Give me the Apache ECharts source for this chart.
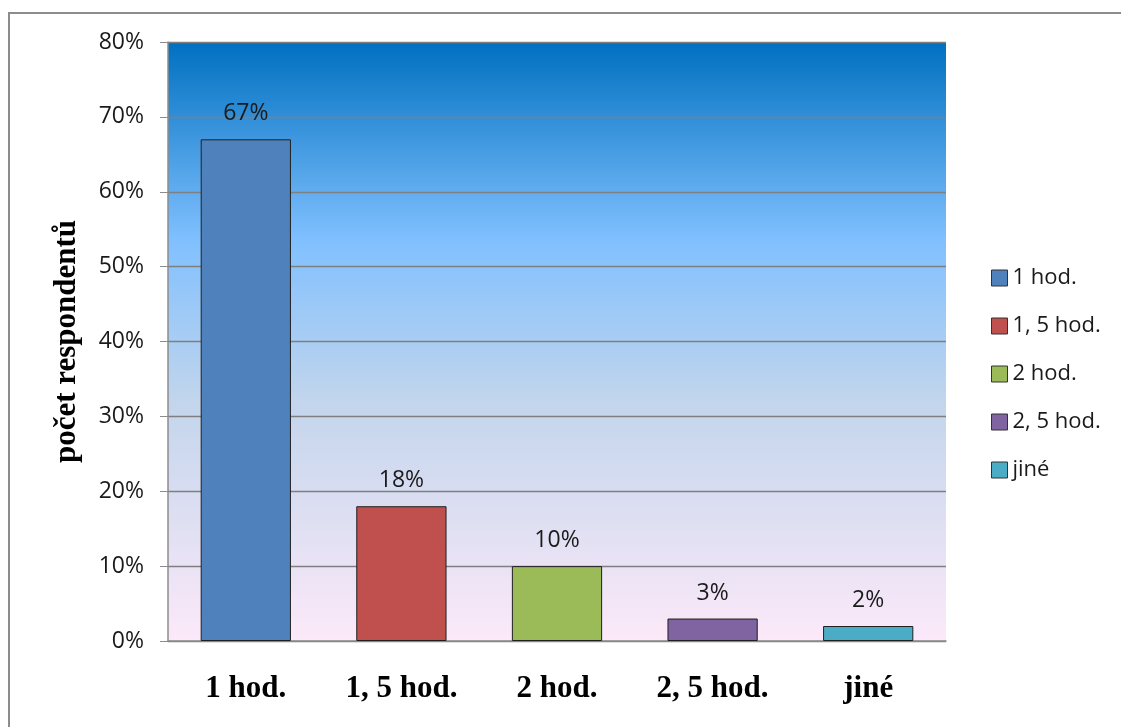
<!DOCTYPE html>
<html>
<head>
<meta charset="utf-8">
<script src="https://cdn.jsdelivr.net/npm/echarts@6/dist/echarts.min.js"></script>
<style>
  html, body { margin: 0; padding: 0; background: #fff; }
  #frame { position: absolute; left: 8px; top: 12px; width: 1130px; height: 730px;
           border: 2px solid #8c8c8c; box-sizing: border-box; }
  #chart { position: absolute; left: 0; top: 0; width: 1121px; height: 727px; }
</style>
</head>
<body>
<div id="frame"></div>
<div id="chart"></div>
<script>
// Doba (hodiny) a podíl respondentů v procentech
const categories = ['1 hod.', '1, 5 hod.', '2 hod.', '2, 5 hod.', 'jiné'];
const values = [67, 18, 10, 3, 2];
const colors = ['#4F81BD', '#C0504D', '#9BBB59', '#8064A2', '#4BACC6'];
const yTicks = [0, 10, 20, 30, 40, 50, 60, 70, 80];

const chart = echarts.init(document.getElementById('chart'), null, { renderer: 'canvas' });

// One series per category so that each appears in the legend; bars overlap in place.
const series = categories.map((name, i) => ({
  name: name,
  type: 'bar',
  barWidth: '58%',
  barGap: '-100%',
  data: categories.map((c, j) => (j === i ? values[i] : null)),
  itemStyle: { color: colors[i], borderColor: '#1f1f1f', borderWidth: 1 },
  label: {
    show: true,
    position: 'top',
    distance: 14,
    formatter: p => p.value + '%',
    fontFamily: 'Open Sans',
    fontSize: 23,
    color: '#1a1a1a'
  }
}));

chart.setOption({
  animation: false,
  grid: {
    left: 168, right: 175, top: 42, bottom: 86,
    show: true,
    borderWidth: 0,
    backgroundColor: {
      type: 'linear', x: 0, y: 0, x2: 0, y2: 1,
      colorStops: [
        { offset: 0, color: '#0070C0' },
        { offset: 0.33, color: '#80C0FF' },
        { offset: 0.6, color: '#C2D5EC' },
        { offset: 1, color: '#FCE9F9' }
      ]
    }
  },
  legend: {
    orient: 'vertical',
    left: 986,
    top: 262,
    itemGap: 26,
    itemWidth: 16,
    itemHeight: 16,
    icon: 'rect',
    data: categories.map((c, i) => ({
      name: c,
      itemStyle: { color: colors[i], borderColor: '#333', borderWidth: 1 }
    })),
    textStyle: { fontFamily: 'Open Sans', fontSize: 22, color: '#1a1a1a', padding: [0, 0, 0, 0] }
  },
  xAxis: {
    type: 'category',
    data: categories,
    axisLine: { show: true, lineStyle: { color: '#8c8c8c', width: 1.5 } },
    axisTick: { show: false },
    axisLabel: {
      margin: 32,
      fontFamily: 'Liberation Serif',
      fontWeight: 'bold',
      fontSize: 31,
      color: '#000'
    }
  },
  yAxis: {
    type: 'value',
    min: 0,
    max: 80,
    interval: 10,
    name: 'počet respondentů',
    nameLocation: 'middle',
    nameGap: 86,
    nameTextStyle: { fontFamily: 'Liberation Serif', fontWeight: 'bold', fontSize: 31, color: '#000' },
    axisLine: { show: true, lineStyle: { color: '#8c8c8c', width: 1.5 } },
    axisTick: { show: true, length: 8, lineStyle: { color: '#8c8c8c' } },
    axisLabel: {
      margin: 24,
      fontFamily: 'Open Sans',
      fontSize: 23,
      color: '#1a1a1a',
      formatter: v => (yTicks.includes(v) ? v + '%' : '')
    },
    splitLine: { show: true, lineStyle: { color: '#7f7f7f', width: 1.4 } }
  },
  series: series
});
</script>
</body>
</html>
